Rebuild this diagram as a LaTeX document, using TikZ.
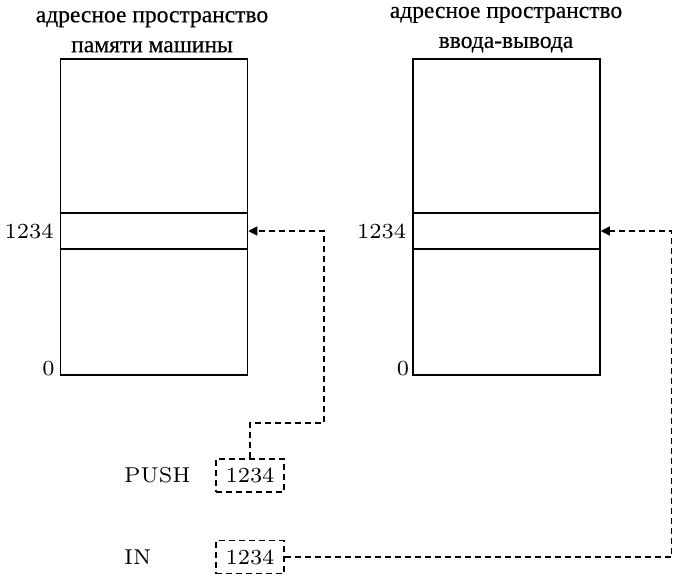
\documentclass[tikz,border=0pt]{standalone}
\usepackage{fontspec}
\newfontfamily\cyrfont[FakeBold=0.5]{Liberation Serif}
\newfontfamily\numfont{lmroman7-regular.otf}
\usetikzlibrary{arrows.meta,positioning}

\begin{document}
\begin{tikzpicture}[x=1pt,y=-1pt,>={Triangle[length=9pt,width=9pt]},
  font=\numfont\fontsize{21.5}{28}\selectfont,
  space/.style={draw,line width=1.5pt,inner sep=0pt,minimum width=187pt,minimum height=316pt},
  cell/.style={draw,line width=1.5pt,inner sep=0pt,minimum width=187pt,minimum height=36pt},
  operand/.style={draw,line width=1.4pt,dash pattern=on 6pt off 4pt,inner sep=0pt,minimum width=68pt,minimum height=33pt},
  link/.style={line width=1.4pt,dash pattern=on 6pt off 4pt},
  title/.style={font=\cyrfont\fontsize{23.5}{30}\selectfont,align=center,anchor=south}]
\useasboundingbox (0,0) rectangle (682,576);
% address spaces
\node[space] (membox) at (154,217) {};
\node[space] (iobox) at (506.5,217) {};
\node[cell] (memcell) at (154,231) {};
\node[cell] (iocell) at (506.5,231) {};
\node[title] (memtitle) at (152,56) {адресное пространство\\памяти машины};
\node[title] (iotitle) at (506,56) {адресное пространство\\ввода-вывода};
\node[left=6pt of memcell,inner sep=0pt] (memaddr) {1234};
\node[left=6pt of iocell,inner sep=0pt] (ioaddr) {1234};
\node[anchor=base east,inner sep=0pt] (memzero) at ([xshift=-5pt]membox.south west) {0};
\node[anchor=base east,inner sep=0pt] (iozero) at ([xshift=-3pt]iobox.south west) {0};
% instructions
\node[operand] (pusharg) at (250,475.5) {1234};
\node[operand] (inarg) at (250,557) {1234};
\node[anchor=west,inner sep=0pt] (pushop) at (124,475.5) {PUSH};
\node[anchor=west,inner sep=0pt] (inop) at (124,557) {IN};
\coordinate (pushturn) at (324,423);
\draw[link,->] (pusharg.north) |- (pushturn) |- (memcell.east);
\draw[link,->] (inarg.east) -| ([xshift=71pt]iocell.east) -- (iocell.east);
\end{tikzpicture}
\end{document}
